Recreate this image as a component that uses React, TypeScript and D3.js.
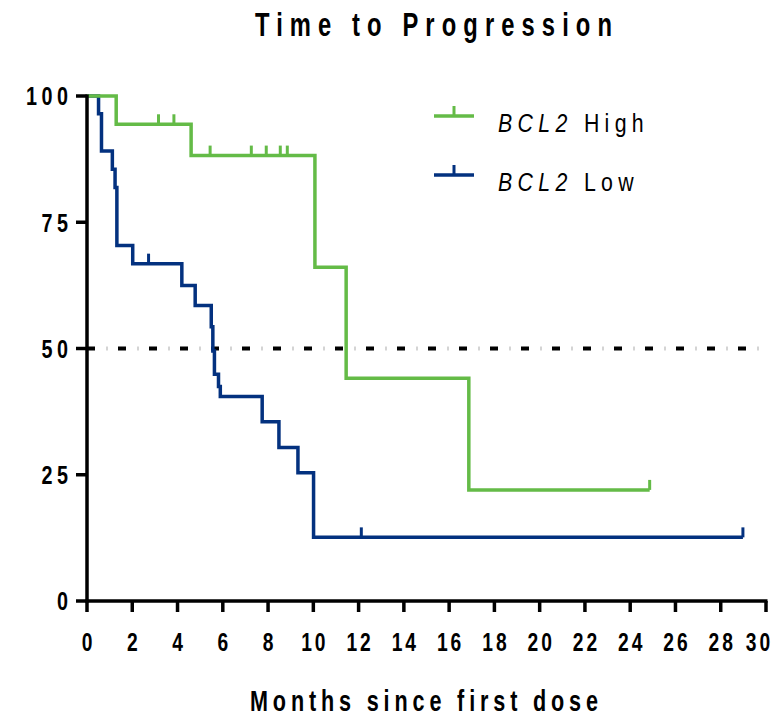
import React from "react";
import * as d3 from "d3";

const highTimes = [0, 1.29, 4.6, 10.07, 11.45, 16.87];
const highSurv = [100, 94.4, 88.2, 66.1, 44.1, 22.0];
const highEnd = 24.86;
const highCensor = [3.16, 3.84, 5.44, 7.26, 7.92, 8.54, 8.85, 24.86];

const lowTimes = [0, 0.51, 0.64, 1.12, 1.24, 1.32, 2.02, 4.19, 4.78, 5.49, 5.56, 5.63, 5.81, 5.89, 7.74, 8.48, 9.32, 10.01];
const lowSurv = [100, 96.5, 89.1, 85.5, 81.9, 70.4, 66.8, 62.5, 58.5, 54.3, 49.5, 44.9, 42.5, 40.5, 35.5, 30.4, 25.4, 12.6];
const lowEnd = 28.98;
const lowCensor = [2.72, 12.12, 28.98];

const xTicks = d3.range(0, 31, 2);
const yTicks = [0, 25, 50, 75, 100];
const seriesNames = ["High", "Low"];
const title = "Time to Progression";
const xTitle = "Months since first dose";

const GREEN = "#64bb47";
const BLUE = "#03317f";
const FONT = "'Liberation Sans', Arial, sans-serif";

function NarrowText(props: {
  x: number; y: number; sx: number; anchor?: string; size: number; spacing?: number;
  bold?: boolean; children: React.ReactNode; dy?: string; len?: number;
}) {
  const { x, y, sx, anchor = "start", size, spacing = 0, bold = true, children, dy, len } = props;
  const shift = len ? 0 : anchor === "end" ? spacing : anchor === "middle" ? spacing / 2 : 0;
  return (
    <g transform={`translate(${x},${y}) scale(${sx},1)`}>
      <text x={shift} y={0} dy={dy} textAnchor={anchor} fontFamily={FONT} fontWeight={bold ? "bold" : "normal"}
        fontSize={size} letterSpacing={len ? undefined : spacing}
        textLength={len ? len / sx : undefined} lengthAdjust={len ? "spacing" : undefined}>{children}</text>
    </g>
  );
}

export default function App() {
  const W = 775, H = 718;
  const x = d3.scaleLinear().domain([0, 30]).range([87, 766]);
  const y = d3.scaleLinear().domain([0, 100]).range([601, 96]);

  const mk = (times: number[], surv: number[], end: number) => {
    const pts: [number, number][] = times.map((t, i) => [t, surv[i]]);
    pts.push([end, surv[surv.length - 1]]);
    return d3.line<[number, number]>().x(d => x(d[0])).y(d => y(d[1])).curve(d3.curveStepAfter)(pts) || "";
  };
  const survAt = (times: number[], surv: number[], t: number) => {
    let s = surv[0];
    for (let i = 0; i < times.length; i++) if (times[i] <= t) s = surv[i];
    return s;
  };

  const series = [
    { times: lowTimes, surv: lowSurv, end: lowEnd, censor: lowCensor, color: BLUE },
    { times: highTimes, surv: highSurv, end: highEnd, censor: highCensor, color: GREEN },
  ];

  const x0 = x(0);
  const y50 = y(50);

  return (
    <svg width={W} height={H} style={{ position: "absolute", left: 0, top: 0, background: "#fff" }}>
      <rect width={W} height={H} fill="#fff" />
      <NarrowText x={255} y={36} sx={0.72} size={33} len={357}>{title}</NarrowText>

      {/* 50% reference line */}
      <line x1={x0} x2={x(30)} y1={y50} y2={y50} stroke="#000" strokeWidth={4}
        strokeDasharray="8 23" />
      <line x1={x0} x2={x(30)} y1={y50} y2={y50} stroke="#aaa" strokeWidth={4}
        strokeDasharray="1 30" strokeDashoffset={-19.5} />

      {series.map((s, i) => (
        <g key={i}>
          <path d={mk(s.times, s.surv, s.end)} fill="none" stroke={s.color} strokeWidth={3.5} />
          {s.censor.map((c, j) => {
            const sv = survAt(s.times, s.surv, c);
            return <line key={j} x1={x(c)} x2={x(c)} y1={y(sv)} y2={y(sv) - 10} stroke={s.color} strokeWidth={3} />;
          })}
        </g>
      ))}

      {/* axes */}
      <line x1={x0} x2={x0} y1={y(100) - 1.5} y2={y(0) + 1.5} stroke="#000" strokeWidth={3.5} />
      <line x1={x0 - 1.5} x2={x(30) + 1.5} y1={y(0)} y2={y(0)} stroke="#000" strokeWidth={3.5} />
      {yTicks.map(t => (
        <g key={t}>
          <line x1={x0 - 11} x2={x0} y1={y(t)} y2={y(t)} stroke="#000" strokeWidth={3.5} />
          <NarrowText x={68} y={y(t)} dy="0.36em" sx={0.76} anchor="end" size={26} spacing={6}>{t}</NarrowText>
        </g>
      ))}
      {xTicks.map(t => (
        <g key={t}>
          <line x1={x(t)} x2={x(t)} y1={y(0)} y2={y(0) + 11} stroke="#000" strokeWidth={3.5} />
          <NarrowText x={t === 30 ? x(t) - 8 : x(t)} y={651} sx={0.74} anchor="middle" size={26} spacing={4}>{t}</NarrowText>
        </g>
      ))}
      <NarrowText x={250} y={711} sx={0.72} size={30} len={348}>{xTitle}</NarrowText>

      {/* legend */}
      {[GREEN, BLUE].map((c, i) => {
        const ly = 116 + i * 59;
        return (
          <g key={i}>
            <line x1={434} x2={474} y1={ly} y2={ly} stroke={c} strokeWidth={3.5} />
            <line x1={454} x2={454} y1={ly} y2={ly - 10} stroke={c} strokeWidth={3} />
            <g transform={`translate(498,${ly + 16}) scale(0.82,1)`}>
              <text x={0} y={0} fontFamily={FONT} fontSize={26} letterSpacing={6.5}>
                <tspan fontStyle="italic">BCL2</tspan>
                <tspan> {seriesNames[i]}</tspan>
              </text>
            </g>
          </g>
        );
      })}
    </svg>
  );
}
